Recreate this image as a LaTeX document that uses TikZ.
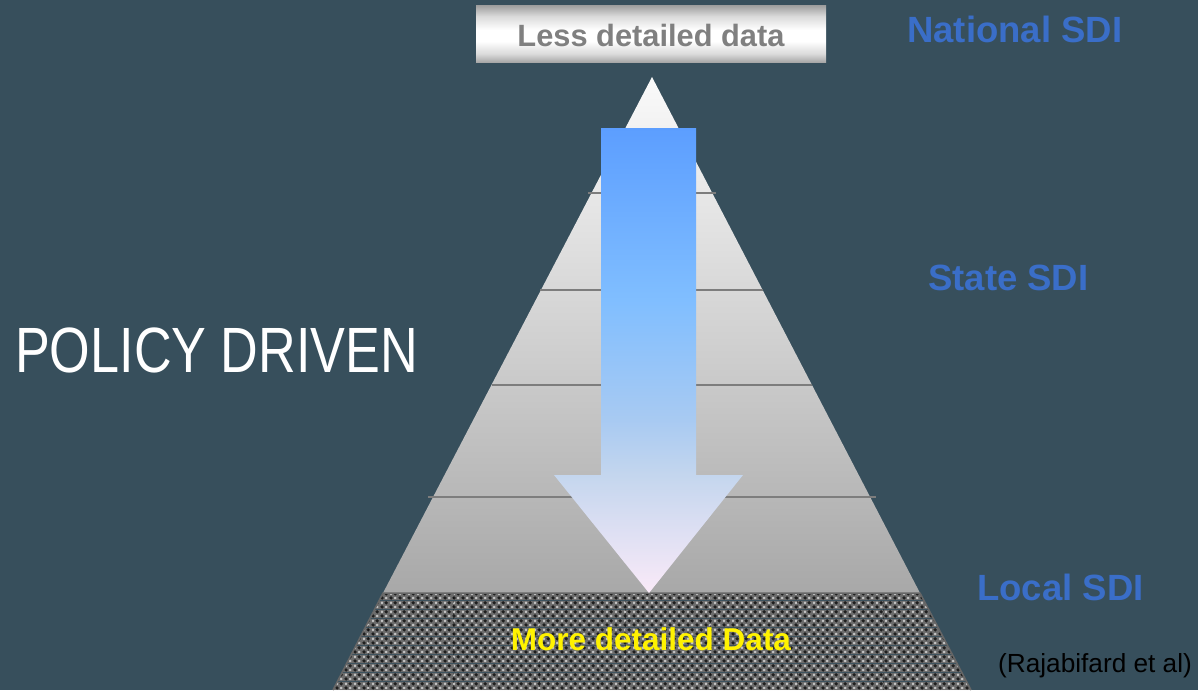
\documentclass[tikz,border=0pt]{standalone}
\usepackage{fontspec}
\setmainfont{Liberation Sans}
\usetikzlibrary{patterns}
\definecolor{bg}{RGB}{55,79,92}
\definecolor{sdiblue}{RGB}{58,110,200}
\definecolor{pyrtop}{RGB}{250,250,250}
\definecolor{pyrbot}{RGB}{168,168,168}
\definecolor{boxedge}{RGB}{162,162,162}
\definecolor{boxsoft}{RGB}{218,218,218}
\definecolor{arrA}{RGB}{92,158,255}
\definecolor{arrB}{RGB}{128,190,255}
\definecolor{arrC}{RGB}{168,202,242}
\definecolor{arrD}{RGB}{196,214,238}
\definecolor{arrE}{RGB}{250,234,248}
\definecolor{chkmid}{RGB}{108,108,108}
\definecolor{chkdark}{RGB}{30,30,30}
\definecolor{chklight}{RGB}{205,205,205}
\definecolor{lvline}{RGB}{125,125,125}
\pgfdeclareverticalshading{boxshade}{100bp}{color(0bp)=(boxedge); color(25bp)=(boxedge); color(33bp)=(boxsoft); color(44bp)=(white); color(54bp)=(white); color(66bp)=(boxsoft); color(75bp)=(boxedge); color(100bp)=(boxedge)}
\pgfdeclareverticalshading{arrshade}{100bp}{color(0bp)=(arrE); color(25bp)=(arrE); color(37.7bp)=(arrD); color(43.6bp)=(arrC); color(56.5bp)=(arrB); color(75bp)=(arrA); color(100bp)=(arrA)}
\pgfdeclarepatterninherentlycolored{chkpat}{\pgfpointorigin}{\pgfpoint{8.6pt}{8.6pt}}{\pgfpoint{8.6pt}{8.6pt}}{%
  \pgfsetfillcolor{chkmid}%
  \pgfpathrectangle{\pgfpointorigin}{\pgfpoint{8.6pt}{8.6pt}}\pgfusepath{fill}%
  \pgfsetfillcolor{chkdark}%
  \pgfpathcircle{\pgfpoint{2.15pt}{2.15pt}}{1.9pt}%
  \pgfpathcircle{\pgfpoint{6.45pt}{6.45pt}}{1.9pt}%
  \pgfusepath{fill}%
  \pgfsetfillcolor{chklight}%
  \pgfpathrectangle{\pgfpoint{5.85pt}{0.95pt}}{\pgfpoint{1.2pt}{2.4pt}}%
  \pgfpathrectangle{\pgfpoint{5.25pt}{1.55pt}}{\pgfpoint{2.4pt}{1.2pt}}%
  \pgfpathrectangle{\pgfpoint{1.55pt}{5.25pt}}{\pgfpoint{1.2pt}{2.4pt}}%
  \pgfpathrectangle{\pgfpoint{0.95pt}{5.85pt}}{\pgfpoint{2.4pt}{1.2pt}}%
  \pgfusepath{fill}%
}
\tikzset{
  lvl/.style={draw=lvline, line width=2pt},
  sdilabel/.style={anchor=base west, inner sep=0pt, text=sdiblue, font=\fontsize{36.5}{40}\selectfont\bfseries},
}
\begin{document}
\begin{tikzpicture}[x=1pt, y=-1pt]
\useasboundingbox (0,0) rectangle (1198,690);
\fill[bg] (0,0) rectangle (1198,690);

% pyramid
\coordinate (apex) at (652,77);
\coordinate (bl) at (383,593);
\coordinate (br) at (920,593);
\coordinate (hbl) at (333,690);
\coordinate (hbr) at (971,690);
\shade[top color=pyrtop, bottom color=pyrbot] (apex) -- (br) -- (bl) -- cycle;

% level lines
\coordinate (l1a) at (588,193); \coordinate (l1b) at (716,193);
\coordinate (l2a) at (540,290); \coordinate (l2b) at (763,290);
\coordinate (l3a) at (492,385); \coordinate (l3b) at (812,385);
\coordinate (l4a) at (428,497); \coordinate (l4b) at (876,497);
\draw[lvl] (l1a) -- (l1b);
\draw[lvl] (l2a) -- (l2b);
\draw[lvl] (l3a) -- (l3b);
\draw[lvl] (l4a) -- (l4b);

% hatched base
\fill[pattern=chkpat] (bl) -- (br) -- (hbr) -- (hbl) -- cycle;
\begin{scope}
\clip (bl) -- (br) -- (hbr) -- (hbl) -- cycle;
\foreach \xx in {368,453,539,625,710,797,883}
  \draw[black, opacity=0.35, line width=0.8pt, dash pattern=on 2pt off 2pt] (\xx,593) -- (\xx,690);
\end{scope}
\draw[draw=gray!80!black, line width=1.5pt] (hbl) -- (bl) -- (br) -- (hbr);

% arrow
\coordinate (a1) at (601,128);
\coordinate (a2) at (696,128);
\coordinate (a3) at (696,475);
\coordinate (a4) at (743,475);
\coordinate (atip) at (649,593);
\coordinate (a6) at (554,475);
\coordinate (a7) at (601,475);
\shade[shading=arrshade]
  (a1) -- (a2) -- (a3) -- (a4) -- (atip) -- (a6) -- (a7) -- cycle;

% top box
\shade[shading=boxshade] (476,6) rectangle (826,63);
\node[anchor=base, inner sep=0pt, text=gray, font=\fontsize{30.8}{34}\selectfont\bfseries] (less) at (651,47) {Less detailed data};

% bottom text
\node[anchor=base, inner sep=0pt, text=yellow, font=\fontsize{31.5}{34}\selectfont\bfseries] (more) at (651,650.5) {More detailed Data};

% labels
\node[sdilabel] (national) at (907,42.3) {National SDI};
\node[sdilabel] (state) at (928,290.7) {State SDI};
\node[sdilabel] (local) at (977,600.7) {Local SDI};

\node[anchor=base west, inner sep=0pt, text=white, font=\fontsize{64}{70}\selectfont] (policy) at (15,372) {\scalebox{0.815}[1]{POLICY DRIVEN}};

\node[anchor=base west, inner sep=0pt, text=black, font=\fontsize{26.2}{30}\selectfont] (ref) at (998,672) {(Rajabifard et al)};
\end{tikzpicture}
\end{document}
